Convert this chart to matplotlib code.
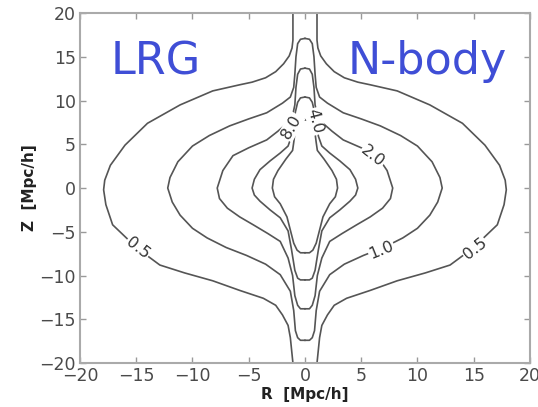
import numpy as np
import matplotlib
matplotlib.use("Agg")
import matplotlib.pyplot as plt

# contour levels of xi(R, Z)
levels = [0.5, 1.0, 2.0, 4.0, 8.0]

# traced contours, left half (R <= 0), from top to bottom; right half is the mirror
r05 = [-1.07, -1.07, -1.15, -1.4, -1.9, -2.6, -3.5, -4.7, -5.8, -8.2, -11.1, -14.0, -16.0, -17.3, -17.8,
       -17.9, -17.7, -17.1, -14.9, -12.9, -10.7, -8.2, -5.8, -3.7, -2.6, -2.0, -1.5, -1.3, -1.07]
z05 = [20, 16.9, 16.0, 15.1, 14.2, 13.3, 12.6, 12.1, 11.8, 11.1, 9.5, 7.4, 4.9, 2.6, 0.9,
       -0.2, -1.9, -4.2, -6.9, -8.8, -9.7, -10.6, -11.7, -12.6, -13.4, -14.5, -15.7, -17.1, -20]

r10 = [0, -0.4, -0.65, -0.8, -0.9, -1.0, -1.3, -2.0, -3.4, -5.0, -6.7, -8.5, -10.0, -11.3, -12.0,
       -12.2, -11.8, -11.1, -10.0, -8.7, -7.0, -5.2, -3.5, -2.2, -1.3, -1.0, -0.85, -0.65, -0.4, 0]
z10 = [17.1, 17.0, 16.5, 15.0, 13.0, 11.5, 10.4, 9.7, 8.6, 7.9, 7.1, 6.0, 4.8, 3.0, 1.2,
       0, -1.6, -3.1, -4.6, -5.7, -6.8, -7.7, -8.7, -9.9, -11.8, -14.0, -16.3, -17.1, -17.4, -17.4]

r20 = [0, -0.4, -0.65, -0.8, -0.9, -1.1, -1.6, -2.4, -3.4, -5.0, -6.4, -7.3, -7.8,
       -7.6, -6.9, -5.8, -4.6, -3.3, -2.2, -1.5, -1.1, -0.9, -0.65, -0.4, 0]
z20 = [13.7, 13.6, 13.0, 11.5, 9.5, 8.3, 7.4, 6.5, 5.5, 4.6, 3.7, 2.0, 0,
       -1.2, -2.3, -3.3, -4.2, -5.2, -6.1, -8.0, -10.0, -12.3, -13.4, -13.8, -13.8]

r40 = [0, -0.4, -0.65, -0.85, -1.0, -1.2, -1.5, -2.2, -3.1, -4.0, -4.5, -4.7,
       -4.5, -4.0, -3.1, -2.2, -1.5, -1.2, -0.9, -0.65, -0.4, 0]
z40 = [10.4, 10.3, 9.8, 8.7, 7.3, 5.9, 4.8, 4.0, 3.1, 2.1, 1.0, 0,
       -0.8, -1.5, -2.5, -3.4, -4.9, -7.0, -9.4, -10.3, -10.5, -10.5]

r80 = [0, -0.4, -0.7, -0.9, -1.0, -1.1, -1.7, -2.4, -2.8, -2.9,
       -2.7, -2.2, -1.6, -1.3, -1.0, -0.7, -0.4, 0]
z80 = [7.8, 7.7, 7.2, 6.2, 5.2, 4.3, 3.3, 2.0, 1.0, 0,
       -1.0, -1.8, -3.3, -4.8, -6.3, -7.1, -7.4, -7.4]

paths = [(r05, z05), (r10, z10), (r20, z20), (r40, z40), (r80, z80)]

# inline labels: text, R, Z, rotation
lab_text = ["0.5", "0.5", "1.0", "2.0", "8.0", "4.0"]
lab_r = [-14.9, 15.1, 6.8, 6.0, -1.2, 0.9]
lab_z = [-6.9, -6.9, -7.1, 3.6, 7.0, 7.6]
lab_rot = [-38, 38, 22, -38, 60, -75]

fig = plt.figure(figsize=(5.38, 4.07), dpi=100)
ax = fig.add_axes([0.1487, 0.108, 0.8363, 0.860])

lc = "#555555"
for r, z in paths:
    r = np.array(r)
    z = np.array(z)
    ax.plot(r, z, color=lc, lw=1.2, solid_joinstyle="round")
    ax.plot(-r, z, color=lc, lw=1.2, solid_joinstyle="round")

for t, x, y, rot in zip(lab_text, lab_r, lab_z, lab_rot):
    ax.text(x, y, t, rotation=rot, ha="center", va="center", fontsize=11.5,
            color="#333333", zorder=5,
            bbox=dict(facecolor="white", edgecolor="none", pad=0.6))

ax.text(-13.3, 14.4, "LRG", color="#3f4ed6", fontsize=32, ha="center", va="center")
ax.text(10.9, 14.5, "N-body", color="#3f4ed6", fontsize=32, ha="center", va="center")

ax.set_xlim(-20, 20)
ax.set_ylim(-20, 20)
ax.set_xticks(range(-20, 21, 5))
ax.set_yticks(range(-20, 21, 5))
ax.tick_params(direction="in", top=True, right=True, length=4, width=1,
               color="#999999", labelsize=12.5, labelcolor="#4a4a4a", pad=3)
for s in ax.spines.values():
    s.set_color("#aaaaaa")
    s.set_linewidth(1.5)

ax.set_xlabel("R  [Mpc/h]", fontsize=11, fontweight="bold", color="#222222", labelpad=1)
ax.set_ylabel("Z  [Mpc/h]", fontsize=11, fontweight="bold", color="#222222", labelpad=2)

fig.savefig("out.png", dpi=100)
